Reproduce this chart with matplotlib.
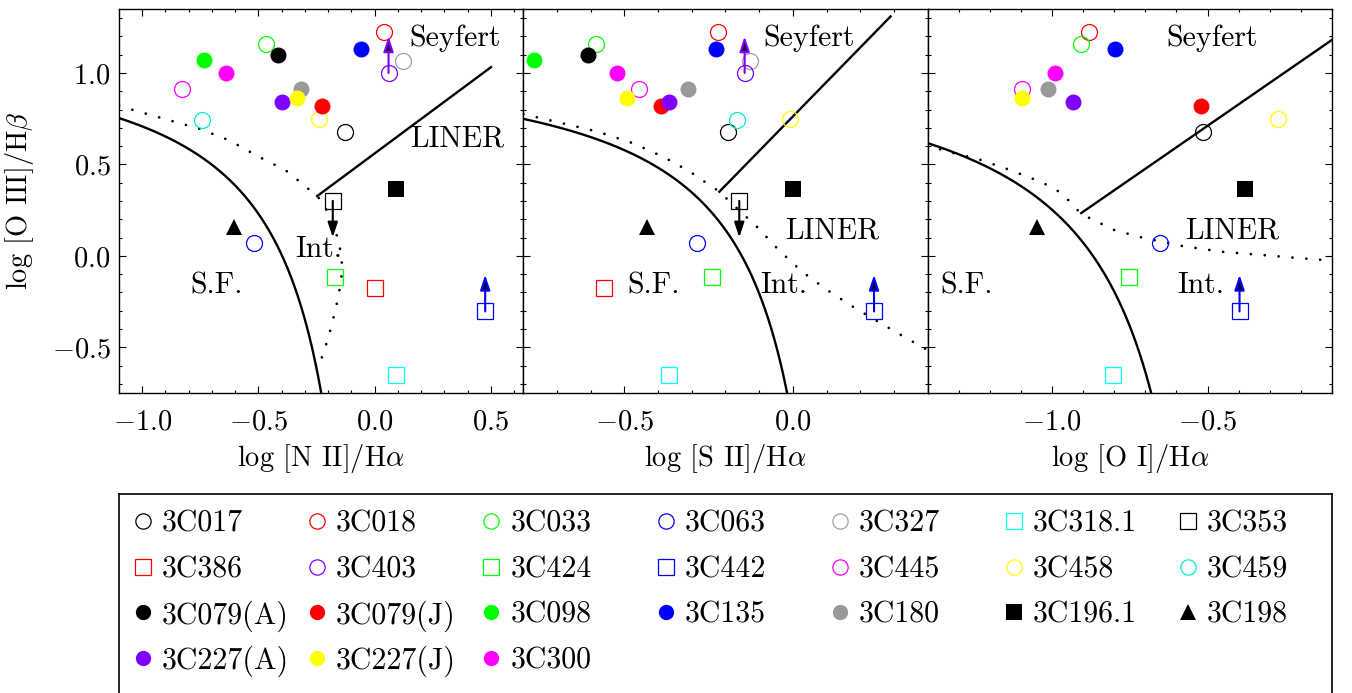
import numpy as np
import matplotlib
matplotlib.use('Agg')
import matplotlib.pyplot as plt
from matplotlib.ticker import MultipleLocator

plt.rcParams['font.family'] = 'serif'
plt.rcParams['font.serif'] = ['cmr10']
plt.rcParams['mathtext.fontset'] = 'cm'
plt.rcParams['axes.formatter.use_mathtext'] = True

# sources, in legend order
names = ['3C017', '3C018', '3C033', '3C063', '3C327', '3C318.1', '3C353',
         '3C386', '3C403', '3C424', '3C442', '3C445', '3C458', '3C459',
         '3C079(A)', '3C079(J)', '3C098', '3C135', '3C180', '3C196.1', '3C198',
         '3C227(A)', '3C227(J)', '3C300']
colors = ['#000000', '#ff0000', '#00ff00', '#0000ff', '#a0a0a0', '#00ffff', '#000000',
          '#ff0000', '#8000ff', '#00ff00', '#0000ff', '#ff00ff', '#ffff00', '#00eecc',
          '#000000', '#ff0000', '#00ff00', '#0000ff', '#999999', '#000000', '#000000',
          '#8000ff', '#ffff00', '#ff00ff']
markers = ['o', 'o', 'o', 'o', 'o', 's', 's',
           's', 'o', 's', 's', 'o', 'o', 'o',
           'o', 'o', 'o', 'o', 'o', 's', '^',
           'o', 'o', 'o']
filled = [False] * 14 + [True] * 10

nan = np.nan
log_oiii_hb = [0.675, 1.223, 1.160, 0.072, 1.065, -0.650, 0.301,
               -0.177, 1.000, -0.113, -0.304, 0.915, 0.747, 0.742,
               1.096, 0.822, 1.073, 1.129, 0.915, 0.364, 0.160,
               0.842, 0.866, 0.998]
log_nii_ha = [-0.129, 0.042, -0.466, -0.520, 0.121, 0.093, -0.180,
              0.003, 0.060, -0.169, 0.476, -0.831, -0.241, -0.741,
              -0.416, -0.228, -0.736, -0.058, -0.318, 0.093, -0.605,
              -0.400, -0.332, -0.640]
log_sii_ha = [-0.193, -0.223, -0.584, -0.285, -0.127, -0.369, -0.159,
              -0.559, -0.143, -0.239, 0.241, -0.457, -0.007, -0.165,
              -0.607, -0.391, -0.769, -0.228, -0.311, 0.000, -0.432,
              -0.368, -0.493, -0.522]
log_oi_ha = [-0.513, -0.880, -0.906, -0.652, nan, -0.805, nan,
             nan, nan, -0.752, -0.397, -1.098, -0.274, nan,
             nan, -0.522, nan, -0.799, -1.012, -0.378, -1.048,
             -0.931, -1.095, -0.990]
# +1: lower limit on [O III]/Hb, -1: upper limit
oiii_limit = [0, 0, 0, 0, 0, 0, -1,
              0, 1, 0, 1, 0, 0, 0,
              0, 0, 0, 0, 0, 0, 0,
              0, 0, 0]
limit_len = 0.2

# star-forming boundary: y = a / (x - b) + c
nii_sf = (0.546, 0.046, 1.230)
sii_sf = (0.388, 0.188, 1.142)
oi_sf = (0.564, -0.388, 1.174)

# maximum-starburst / intermediate boundary
nii_agn_x = [-1.100, -0.885, -0.756, -0.628, -0.470, -0.384, -0.313, -0.248, -0.219, -0.184,
             -0.155, -0.141, -0.143, -0.162, -0.186, -0.215, -0.241]
nii_agn_y = [0.820, 0.742, 0.696, 0.633, 0.523, 0.469, 0.396, 0.327, 0.287, 0.178,
             0.087, -0.022, -0.131, -0.258, -0.386, -0.513, -0.604]
sii_agn_x = [-0.800, -0.681, -0.577, -0.473, -0.384, -0.305, -0.218, -0.166, -0.107, -0.042,
             0.027, 0.101, 0.185, 0.260, 0.319, 0.400]
sii_agn_y = [0.775, 0.724, 0.678, 0.615, 0.541, 0.460, 0.351, 0.260, 0.160, 0.032,
             -0.086, -0.186, -0.286, -0.367, -0.431, -0.515]
oi_agn_x = [-1.403, -1.312, -1.237, -1.134, -1.032, -0.968, -0.906, -0.801, -0.715, -0.581,
            -0.457, -0.328, -0.199, -0.100]
oi_agn_y = [0.603, 0.560, 0.529, 0.469, 0.402, 0.342, 0.229, 0.142, 0.102, 0.054,
            0.023, 0.005, -0.013, -0.026]

# Seyfert / LINER separation
nii_sl_x, nii_sl_y = [-0.247, 0.501], [0.327, 1.032]
sii_sl_x, sii_sl_y = [-0.218, 0.290], [0.351, 1.309]
oi_sl_x, oi_sl_y = [-0.906, -0.099], [0.234, 1.182]

panels = [
    dict(x=log_nii_ha, xlim=(-1.10, 0.64), xlabel=r'log [N II]/H$\alpha$',
         sf=nii_sf, agn=(nii_agn_x, nii_agn_y), sl=(nii_sl_x, nii_sl_y),
         text={'Seyfert': (0.347, 1.147), 'LINER': (0.357, 0.596),
               'Int.': (-0.242, -0.004), 'S.F.': (-0.678, -0.204)}),
    dict(x=log_sii_ha, xlim=(-0.80, 0.40), xlabel=r'log [S II]/H$\alpha$',
         sf=sii_sf, agn=(sii_agn_x, sii_agn_y), sl=(sii_sl_x, sii_sl_y),
         text={'Seyfert': (0.048, 1.147), 'LINER': (0.116, 0.096),
               'Int.': (-0.027, -0.204), 'S.F.': (-0.413, -0.204)}),
    dict(x=log_oi_ha, xlim=(-1.40, -0.10), xlabel=r'log [O I]/H$\alpha$',
         sf=oi_sf, agn=(oi_agn_x, oi_agn_y), sl=(oi_sl_x, oi_sl_y),
         text={'Seyfert': (-0.484, 1.147), 'LINER': (-0.421, 0.096),
               'Int.': (-0.522, -0.204), 'S.F.': (-1.275, -0.204)}),
]
ylim = (-0.75, 1.35)

W, H = 1352, 693
fig = plt.figure(figsize=(W / 100, H / 100), dpi=100)

left0, pw = 119, 404.3
bottom, ph = 1 - 393 / H, 384 / H

for k, p in enumerate(panels):
    ax = fig.add_axes([(left0 + k * pw) / W, bottom, pw / W, ph])
    ax.set_xlim(*p['xlim'])
    ax.set_ylim(*ylim)

    a, b, c = p['sf']
    x_end = b + a / (ylim[0] - c)
    xs = np.linspace(p['xlim'][0], x_end, 400)
    ax.plot(xs, a / (xs - b) + c, color='k', lw=1.7, zorder=2)
    ax.plot(*p['agn'], color='k', lw=2.0, ls=(0, (0.01, 5)),
            dash_capstyle='round', zorder=2)
    ax.plot(*p['sl'], color='k', lw=1.7, zorder=2)

    for i in range(len(names)):
        xv, yv = p['x'][i], log_oiii_hb[i]
        if np.isnan(xv):
            continue
        col = colors[i]
        ms = 11.5 if markers[i] == 'o' else 12
        ax.plot(xv, yv, ls='none', marker=markers[i], ms=ms,
                mfc=col if filled[i] else 'none', mec=col,
                mew=0 if filled[i] else 0.9, zorder=3)
        if oiii_limit[i]:
            head = tuple(0.25 * v for v in matplotlib.colors.to_rgb(col))
            ax.annotate('', xy=(xv, yv + oiii_limit[i] * limit_len), xytext=(xv, yv),
                        arrowprops=dict(arrowstyle='-|>,head_length=0.9,head_width=0.3',
                                        mutation_scale=10, lw=1.5, ec=col, fc=head,
                                        shrinkA=0, shrinkB=0), zorder=5)

    for label, (tx, ty) in p['text'].items():
        ax.text(tx, ty, label, fontsize=21.5, ha='center', va='baseline', zorder=4)

    ax.xaxis.set_major_locator(MultipleLocator(0.5))
    ax.xaxis.set_minor_locator(MultipleLocator(0.1))
    ax.yaxis.set_major_locator(MultipleLocator(0.5))
    ax.yaxis.set_minor_locator(MultipleLocator(0.1))
    ax.tick_params(which='both', direction='in', top=True, right=True, width=0.8)
    ax.tick_params(which='major', length=5)
    ax.tick_params(which='minor', length=2.5)
    ax.tick_params(axis='x', labelsize=20.5, pad=12)
    ax.tick_params(axis='y', labelsize=20.5, pad=6)
    ax.set_xlabel(p['xlabel'], fontsize=20.5, labelpad=4)
    if k == 0:
        ax.set_ylabel(r'log [O III]/H$\beta$', fontsize=20.5, labelpad=11)
    else:
        ax.tick_params(labelleft=False)
    for s in ax.spines.values():
        s.set_linewidth(1.0)

# legend box, 7 columns filled row by row
top_px = 494
lax = fig.add_axes([left0 / W, -0.06, (1332 - left0) / W, (H - top_px) / H + 0.06])
lax.set_xlim(left0, 1332)
lax.set_ylim(H + 0.06 * H, top_px)
lax.set_xticks([])
lax.set_yticks([])
for s in lax.spines.values():
    s.set_linewidth(1.2)
ncol = 7
for i, name in enumerate(names):
    row, col = divmod(i, ncol)
    mx, my = 143 + 174.2 * col, 521 + 45.5 * row
    clr = colors[i]
    lax.plot(mx, my, ls='none', marker=markers[i], ms=11,
             mfc=clr if filled[i] else 'none', mec=clr, mew=0 if filled[i] else 0.9)
    lax.text(mx + 19, my, name, fontsize=21.5, ha='left', va='center_baseline')

fig.savefig('out.png', dpi=100)
